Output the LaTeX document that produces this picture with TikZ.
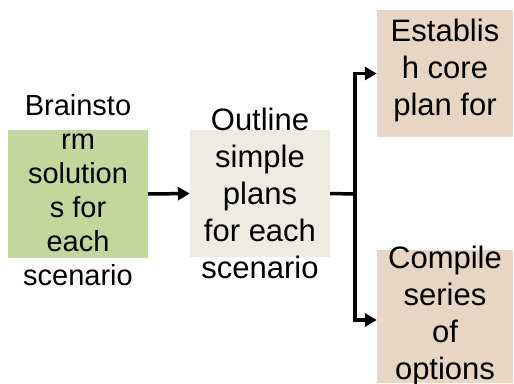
\documentclass[tikz,border=0pt]{standalone}
\usepackage{fontspec}
\setmainfont{Liberation Sans}
\usetikzlibrary{arrows.meta}
\definecolor{stepgreen}{HTML}{C3D69B}
\definecolor{steptan}{HTML}{EEECE1}
\definecolor{stepbeige}{HTML}{E8D5C3}
\tikzset{
  stepbox/.style={draw=none, rectangle, inner sep=0pt, minimum width=#1},
  steptext/.style={inner sep=0pt, align=center, text=black},
  bigtext/.style={steptext, font=\fontsize{31}{37}\selectfont},
  smalltext/.style={steptext, font=\fontsize{29}{34}\selectfont},
  conn/.style={line width=3.5pt, draw=black},
  arr/.style={conn, -{Triangle[length=12pt,width=13pt]}},
}
\begin{document}
\begin{tikzpicture}[x=1pt,y=-1pt]
  \useasboundingbox (0,0) rectangle (514,383);

  % coloured step boxes
  \node[stepbox=140pt, minimum height=128pt, fill=stepgreen] (brain) at (78,194) {};
  \node[stepbox=140pt, minimum height=127pt, fill=steptan] (outline) at (260,193.5) {};
  \node[stepbox=136pt, minimum height=127pt, fill=stepbeige] (core) at (445,73.5) {};
  \node[stepbox=136pt, minimum height=133pt, fill=stepbeige] (series) at (445,316.5) {};

  % step labels (they run past the box edges)
  \node[smalltext] (brainT) at (78,190) {Brainsto\\rm\\solution\\s for\\each\\scenario};
  \node[bigtext] (outlineT) at (260,193) {Outline\\simple\\plans\\for each\\scenario};
  \node[bigtext] (coreT) at (445,70) {Establis\\h core\\plan for};
  \node[bigtext] (seriesT) at (445,316) {Compile\\series\\of\\options};

  % connectors
  \coordinate (fork) at (355,194);
  \draw[arr] (brain.east) -- (outline.west);
  \draw[conn] (outline.east) -- (fork);
  \draw[arr] (fork) |- (core.west);
  \draw[arr] (fork) |- ([yshift=-3.5pt]series.west);
\end{tikzpicture}
\end{document}
